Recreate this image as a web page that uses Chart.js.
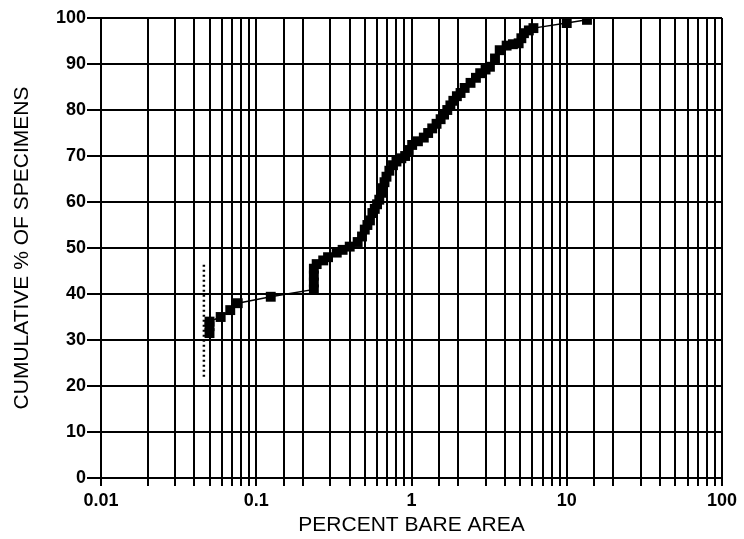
<!DOCTYPE html>
<html>
<head>
<meta charset="utf-8">
<script src="https://cdn.jsdelivr.net/npm/chart.js@4.4.0/dist/chart.umd.min.js"></script>
<style>
    html, body { margin: 0; padding: 0; background: #fff; }
</style>
</head>
<body>
<canvas id="chart" width="744" height="539"></canvas>
<script>
// Percent bare area (x) and cumulative % of specimens (y)
const bareArea = [0.05, 0.05, 0.05, 0.059, 0.068, 0.076, 0.124,
    0.235, 0.235, 0.235, 0.235, 0.245, 0.27, 0.29, 0.33, 0.36, 0.4, 0.45, 0.48,
    0.5, 0.52, 0.54, 0.56, 0.58, 0.6, 0.62, 0.64, 0.65, 0.67, 0.69, 0.72, 0.76,
    0.8, 0.86, 0.91, 0.96, 1.01, 1.1, 1.2, 1.28, 1.36, 1.45, 1.54, 1.62, 1.7,
    1.78, 1.86, 1.96, 2.07, 2.2, 2.4, 2.6, 2.77, 3.0, 3.2, 3.45, 3.7, 4.1, 4.5,
    4.9, 5.1, 5.3, 5.7, 6.1, 10.0, 13.5];
const cumulative = [31.5, 33, 34, 35, 36.5, 38, 39.4,
    41, 42.5, 44, 45.5, 46.5, 47.3, 48, 49, 49.6, 50.3, 51.3, 52.5,
    54, 55, 56, 57.6, 58.5, 59.5, 60.5, 62, 63, 64.3, 65.5, 66.8, 68,
    68.8, 69.5, 70, 71.3, 72.4, 73.2, 74, 75, 76, 77, 78, 79, 80,
    81, 82, 83, 83.7, 84.8, 85.9, 87, 88, 88.8, 89.4, 91.2, 93, 94, 94.3,
    94.5, 95.6, 96.7, 97.3, 97.8, 98.9, 99.6];

// dotted vertical marker left of the first points
const markerX = [0.046, 0.046];
const markerY = [22, 47];

const xTickLabels = ['0.01', '0.1', '1', '10', '100'];

const tickFont = { family: 'Liberation Sans, Arial, sans-serif', size: 18, weight: 'bold' };
const titleFont = { family: 'Liberation Sans, Arial, sans-serif', size: 21 };

new Chart(document.getElementById('chart'), {
    type: 'scatter',
    data: {
        datasets: [{
            data: bareArea.map((x, i) => ({ x: x, y: cumulative[i] })),
            showLine: true,
            borderColor: '#000',
            borderWidth: 1.5,
            backgroundColor: '#000',
            pointStyle: 'rect',
            pointRadius: 7,
            pointBorderWidth: 0
        }, {
            data: markerX.map((x, i) => ({ x: x, y: markerY[i] })),
            showLine: true,
            borderColor: '#000',
            borderWidth: 2.5,
            borderDash: [2, 3],
            pointRadius: 0
        }]
    },
    options: {
        responsive: false,
        animation: false,
        layout: { padding: { top: 18, right: 22, left: 0, bottom: 0 } },
        plugins: { legend: { display: false }, tooltip: { enabled: false } },
        scales: {
            x: {
                type: 'logarithmic',
                min: 0.01,
                max: 100,
                afterFit: s => { s.height = 61; },
                border: { color: '#000', width: 2 },
                grid: { color: '#000', lineWidth: 2, tickLength: 8 },
                ticks: {
                    autoSkip: false,
                    maxRotation: 0,
                    color: '#000',
                    font: tickFont,
                    padding: 4,
                    callback: v => {
                        const l = Math.log10(v);
                        return Math.abs(l - Math.round(l)) < 1e-6 ? xTickLabels[Math.round(l) + 2] : '';
                    }
                },
                title: {
                    display: true,
                    text: 'PERCENT BARE AREA',
                    color: '#000',
                    font: titleFont,
                    padding: { top: 0, bottom: 1 }
                }
            },
            y: {
                min: 0,
                max: 100,
                afterFit: s => { s.width = 101; },
                border: { color: '#000', width: 2 },
                grid: { color: '#000', lineWidth: 2, tickLength: 14 },
                ticks: { stepSize: 10, color: '#000', font: tickFont, padding: 1 },
                title: {
                    display: true,
                    text: 'CUMULATIVE % OF SPECIMENS',
                    color: '#000',
                    font: titleFont,
                    padding: { top: 10, bottom: 0 }
                }
            }
        }
    }
});
</script>
</body>
</html>
